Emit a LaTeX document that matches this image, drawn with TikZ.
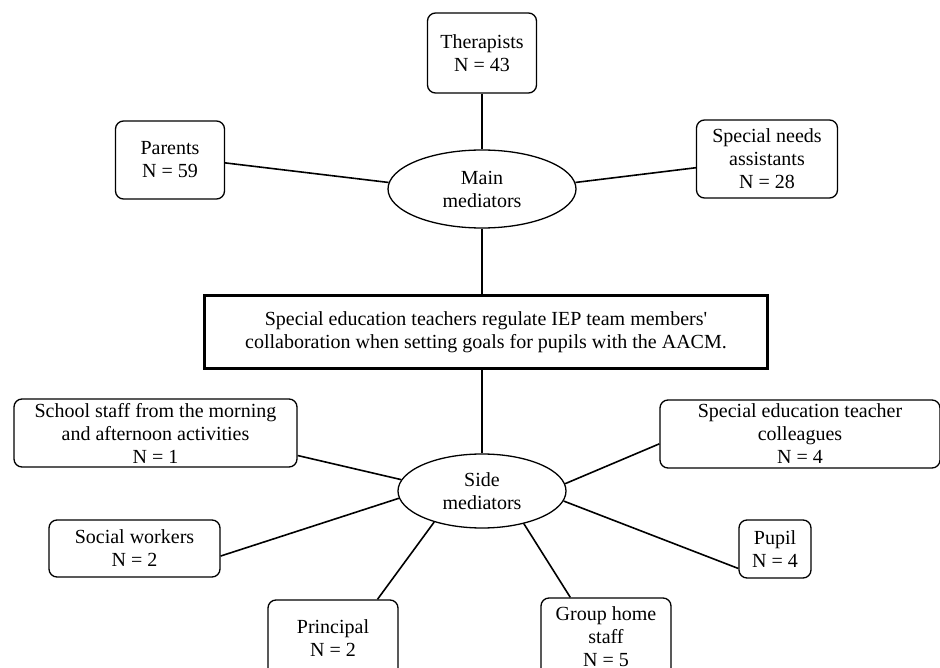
\documentclass[tikz,border=0pt]{standalone}
\usepackage{fontspec}
\setmainfont{Liberation Serif}
\usetikzlibrary{shapes.geometric}
\begin{document}
\begin{tikzpicture}[x=1pt,y=-1pt,
  every node/.style={font=\fontsize{20}{23}\selectfont, align=center, inner sep=0pt},
  rbox/.style={draw, rounded corners=8pt, line width=1.3pt, fill=white},
  med/.style={draw, ellipse, line width=1.3pt, fill=white},
  mainbox/.style={draw, line width=2.2pt, fill=white},
  conn/.style={line width=1.6pt}]
\useasboundingbox[fill=white] (0,0) rectangle (940,668);
% top group
\node[rbox, minimum width=109pt, minimum height=80pt] (th) at (482,53) {Therapists\\N = 43};
\node[rbox, minimum width=109pt, minimum height=78pt] (pa) at (170,160) {Parents\\N = 59};
\node[rbox, minimum width=141pt, minimum height=78pt] (sna) at (767,159) {Special needs\\assistants\\N = 28};
\node[med, minimum width=188pt, minimum height=78pt] (main) at (482,189) {Main\\mediators};
% central
\node[mainbox, minimum width=563pt, minimum height=73pt] (cen) at (486,332) {Special education teachers regulate IEP team members\textquotesingle\\collaboration when setting goals for pupils with the AACM.};
% side group
\node[med, minimum width=168pt, minimum height=74pt] (side) at (482,491) {Side\\mediators};
\node[rbox, minimum width=283pt, minimum height=68pt] (sch) at (155.5,433) {School staff from the morning\\and afternoon activities\\N = 1};
\node[rbox, minimum width=280pt, minimum height=68pt] (col) at (800,434) {Special education teacher\\colleagues\\N = 4};
\node[rbox, minimum width=171pt, minimum height=57pt] (sw) at (134.5,548.5) {Social workers\\N = 2};
\node[rbox, minimum width=72pt, minimum height=58pt] (pu) at (775,549) {Pupil\\N = 4};
\node[rbox, minimum width=130pt, minimum height=76pt] (pr) at (333,638) {Principal\\N = 2};
\node[rbox, minimum width=130pt, minimum height=78pt] (gh) at (606,637) {Group home\\staff\\N = 5};
% connectors
\draw[conn] (th.south) -- (main.north);
\draw[conn] (pa.-3) -- (main.176);
\draw[conn] (sna.187) -- (main.4);
\draw[conn] (main.south) -- (main.south |- cen.north);
\draw[conn] (side.north |- cen.south) -- (side.north);
\draw[conn] (sch.-9) -- (side.172);
\draw[conn] (col.184.5) -- (side.5.4);
\draw[conn] (sw.-5.7) -- (side.185);
\draw[conn] (pu.208) -- (side.-7.4);
\draw[conn] (pr.41) -- (side.213);
\draw[conn] (gh.132) -- (side.-38);
\end{tikzpicture}
\end{document}
